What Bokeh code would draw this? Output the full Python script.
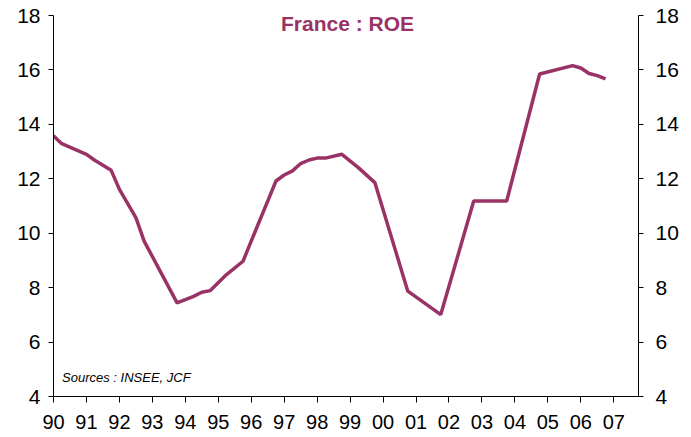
from bokeh.plotting import figure
from bokeh.models import LinearAxis, Range1d, FixedTicker, Label
from bokeh.embed import file_html
from bokeh.resources import INLINE

# Quarterly ROE vertices (year fraction, %)
years = [1990.0, 1990.25, 1991.0, 1991.25, 1991.75, 1992.0, 1992.5, 1992.75,
         1993.75, 1994.25, 1994.5, 1994.75, 1995.25, 1995.75, 1996.25, 1996.5,
         1996.75, 1997.0, 1997.25, 1997.5, 1997.75, 1998.0, 1998.25, 1998.75,
         1999.25, 1999.75, 2000.75, 2001.75, 2002.75, 2003.75, 2004.0, 2004.75,
         2005.75, 2006.0, 2006.25, 2006.5, 2006.75]
roe = [13.58, 13.29, 12.90, 12.68, 12.31, 11.61, 10.57, 9.71,
       7.44, 7.68, 7.83, 7.89, 8.48, 8.97, 10.45, 11.18,
       11.92, 12.14, 12.29, 12.56, 12.69, 12.76, 12.76, 12.90,
       12.41, 11.86, 7.87, 7.01, 11.18, 11.18, 12.35, 15.85,
       16.16, 16.07, 15.87, 15.79, 15.67]

tick_years = list(range(1990, 2008))
tick_labels = ["90", "91", "92", "93", "94", "95", "96", "97", "98", "99",
               "00", "01", "02", "03", "04", "05", "06", "07"]
y_ticks = [4, 6, 8, 10, 12, 14, 16, 18]

title_text = "France : ROE"
source_text = "Sources :  INSEE, JCF"

COLOR = "#993366"
FONT = "Liberation Sans"

p = figure(width=691, height=437, output_backend="svg", toolbar_location=None,
           x_range=Range1d(1990, 2007.75), y_range=Range1d(4, 18),
           frame_width=585, frame_height=381,
           min_border_left=53, min_border_right=53,
           min_border_top=15, min_border_bottom=41)
p.outline_line_color = None
p.xgrid.visible = False
p.ygrid.visible = False
p.background_fill_color = "white"
p.border_fill_color = "white"

p.line(years, roe, line_color=COLOR, line_width=3.5)

# bottom axis
xa = p.xaxis[0]
xa.ticker = FixedTicker(ticks=tick_years)
xa.major_label_overrides = {y: l for y, l in zip(tick_years, tick_labels)}
xa.minor_tick_line_color = None
xa.major_tick_in = 0
xa.major_tick_out = 6
xa.major_label_standoff = 12
xa.major_label_text_font = FONT
xa.major_label_text_font_size = "20px"
xa.major_label_text_color = "black"
xa.axis_line_color = "black"
xa.major_tick_line_color = "black"

# left axis
ya = p.yaxis[0]
ya.ticker = FixedTicker(ticks=y_ticks)
ya.minor_tick_line_color = None
ya.major_tick_in = 0
ya.major_tick_out = 5
ya.major_label_standoff = 8
ya.major_label_text_font = FONT
ya.major_label_text_font_size = "21px"
ya.major_label_text_color = "black"
ya.axis_line_color = "black"
ya.major_tick_line_color = "black"

# right axis
ra = LinearAxis(ticker=FixedTicker(ticks=y_ticks))
ra.minor_tick_line_color = None
ra.major_tick_in = 0
ra.major_tick_out = 5
ra.major_label_standoff = 12
ra.major_label_text_font = FONT
ra.major_label_text_font_size = "21px"
ra.major_label_text_color = "black"
ra.axis_line_color = "black"
ra.major_tick_line_color = "black"
p.add_layout(ra, "right")

p.add_layout(Label(x=1998.92, y=17.71, text=title_text, text_align="center",
                   text_baseline="alphabetic", text_font=FONT,
                   text_font_style="bold", text_font_size="21px",
                   text_color=COLOR))
p.add_layout(Label(x=1990.26, y=4.69, text=source_text, text_align="left",
                   text_baseline="alphabetic", text_font=FONT,
                   text_font_style="italic", text_font_size="13px",
                   text_color="black"))

open("out.html", "w").write(file_html(p, INLINE))
